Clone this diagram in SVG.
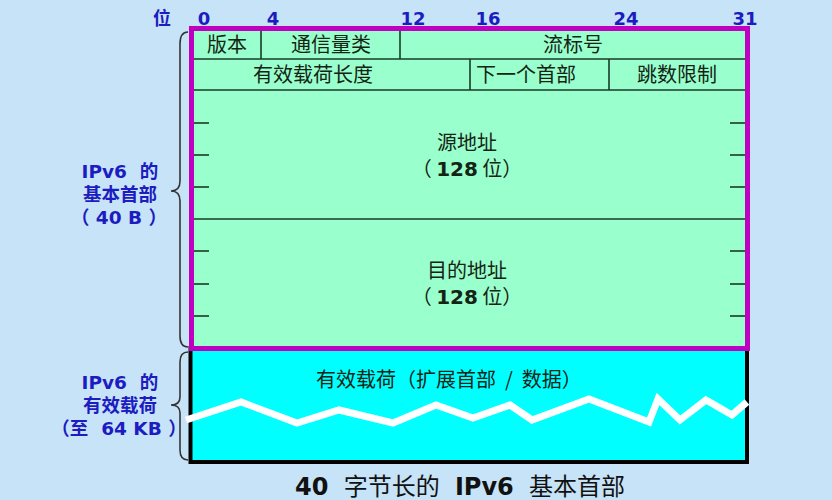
<svg xmlns="http://www.w3.org/2000/svg" width="832" height="500" viewBox="0 0 832 500">
<style>
.f{font-family:"Noto Sans CJK SC","DejaVu Sans",sans-serif;font-size:20px;fill:#142414;text-anchor:middle}
.b{font-family:"DejaVu Sans","Noto Sans CJK SC",sans-serif;font-size:18px;font-weight:bold;fill:#1c1cc0;text-anchor:middle}
.l{font-family:"DejaVu Sans","Noto Sans CJK SC",sans-serif;font-size:18.5px;font-weight:bold;fill:#1c1cc0;text-anchor:middle}
.ln{stroke:#1a3a2a;stroke-width:1.6;fill:none}
.brace{stroke:#333;stroke-width:1.6;fill:none}
</style>
<rect x="0" y="0" width="832" height="500" fill="#c7e3f8"/>
<g id="bits">
<text class="b" x="162" y="25">位</text>
<text class="b" x="204" y="25">0</text>
<text class="b" x="273" y="25">4</text>
<text class="b" x="413" y="25">12</text>
<text class="b" x="488" y="25">16</text>
<text class="b" x="626" y="25">24</text>
<text class="b" x="745" y="25">31</text>
</g>
<g id="payload">
<rect x="190.5" y="348" width="556.5" height="114" fill="#00ffff" stroke="#000" stroke-width="4"/>
<text class="f" x="449" y="387" xml:space="preserve">有效载荷（扩展首部  /  数据）</text>
<polyline points="186,420 241,402 297,423 339,410 393,423 436,405 473,418 510,405 532,420 589,399 649,422 658,399 680,420 706,400 732,415 747,402" fill="none" stroke="#fff" stroke-width="7" stroke-linejoin="miter"/>
</g>
<g id="header">
<rect x="191.5" y="28.5" width="556" height="320" fill="#99ffcc"/>
<line class="ln" x1="192" y1="59" x2="747" y2="59"/>
<line class="ln" x1="192" y1="90" x2="747" y2="90"/>
<line class="ln" x1="192" y1="219" x2="747" y2="219"/>
<line class="ln" x1="261" y1="29" x2="261" y2="59"/>
<line class="ln" x1="400" y1="29" x2="400" y2="59"/>
<line class="ln" x1="470" y1="59" x2="470" y2="90"/>
<line class="ln" x1="609" y1="59" x2="609" y2="90"/>
<g class="ln">
<line x1="194" y1="123" x2="209" y2="123"/>
<line x1="194" y1="155" x2="209" y2="155"/>
<line x1="194" y1="187" x2="209" y2="187"/>
<line x1="194" y1="251" x2="209" y2="251"/>
<line x1="194" y1="284" x2="209" y2="284"/>
<line x1="194" y1="316" x2="209" y2="316"/>
<line x1="730" y1="123" x2="745" y2="123"/>
<line x1="730" y1="155" x2="745" y2="155"/>
<line x1="730" y1="187" x2="745" y2="187"/>
<line x1="730" y1="251" x2="745" y2="251"/>
<line x1="730" y1="284" x2="745" y2="284"/>
<line x1="730" y1="316" x2="745" y2="316"/>
</g>
<rect x="191.5" y="28.5" width="556" height="320" fill="none" stroke="#c000c0" stroke-width="5"/>
<text class="f" x="227" y="52">版本</text>
<text class="f" x="331" y="52">通信量类</text>
<text class="f" x="573" y="52">流标号</text>
<text class="f" x="313" y="82">有效载荷长度</text>
<text class="f" x="526" y="82">下一个首部</text>
<text class="f" x="677" y="82">跳数限制</text>
<text class="f" x="467" y="150">源地址</text>
<text class="f" x="467" y="176" xml:space="preserve">（ <tspan font-weight="bold" font-family="DejaVu Sans">128</tspan> 位）</text>
<text class="f" x="467" y="278">目的地址</text>
<text class="f" x="467" y="304" xml:space="preserve">（ <tspan font-weight="bold" font-family="DejaVu Sans">128</tspan> 位）</text>
</g>
<g id="braces">
<path class="brace" d="M188,32 Q180,32 180,44 L180,181 Q180,191 171,191 Q180,191 180,201 L180,336 Q180,347 188,347"/>
<path class="brace" d="M188,352 Q180,352 180,362 L180,397 Q180,405 171,405 Q180,405 180,413 L180,450 Q180,460 188,460"/>
</g>
<g id="labels">
<text class="l" x="120" y="178" xml:space="preserve">IPv6  的</text>
<text class="l" x="120" y="201">基本首部</text>
<text class="l" x="119" y="224" xml:space="preserve">（ 40 B ）</text>
<text class="l" x="120" y="389" xml:space="preserve">IPv6  的</text>
<text class="l" x="120" y="412">有效载荷</text>
<text class="l" x="119" y="435" xml:space="preserve">（至  64 KB ）</text>
</g>
<g id="caption">
<text x="460" y="495" font-family="DejaVu Sans,'Noto Sans CJK SC',sans-serif" font-size="24" fill="#111" text-anchor="middle" xml:space="preserve"><tspan font-weight="bold">40</tspan>  字节长的  <tspan font-weight="bold">IPv6</tspan>  基本首部</text>
</g>
</svg>
